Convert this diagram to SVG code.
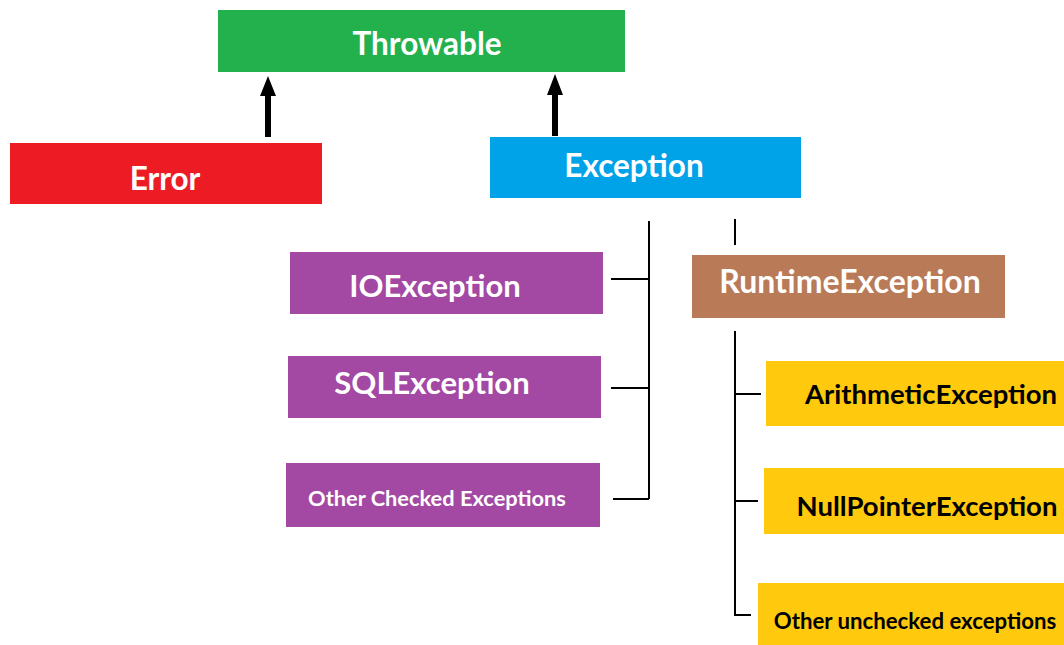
<svg xmlns="http://www.w3.org/2000/svg" width="1064" height="645" viewBox="0 0 1064 645">
<style>
text{font-family:Lato,"Open Sans","Liberation Sans",sans-serif;font-weight:bold;text-anchor:middle}
.w{fill:#ffffff}
.k{fill:#000000}
.ln{stroke:#000;stroke-width:2;fill:none}
</style>
<rect width="1064" height="645" fill="#fff"/>
<g id="connectors">
<polygon points="265,137 271,137 271,96 276,96 268,76 260,96 265,96" fill="#000"/>
<polygon points="552,136 558,136 558,95 563,95 555,74 547,95 552,95" fill="#000"/>
<path class="ln" d="M649,221 V499 M611,279 H649 M611,388 H649 M613,499 H649"/>
<path class="ln" d="M735,219 V245 M735,331 V615 H751 M735,394 H761 M735,501 H758"/>
</g>
<g id="throwable"><rect x="218" y="10" width="407" height="62" fill="#22b14c"/><text class="w" x="427" y="55" font-size="31.5">Throwable</text></g>
<g id="error"><rect x="10" y="143" width="312" height="61" fill="#ed1c24"/><text class="w" x="165" y="190" font-size="31.5">Error</text></g>
<g id="exception"><rect x="490" y="137" width="311" height="61" fill="#00a2e8"/><text class="w" x="634" y="177" font-size="31.5">Exception</text></g>
<g id="ioexception"><rect x="290" y="252" width="313" height="62" fill="#a349a4"/><text class="w" x="435" y="297" font-size="31">IOException</text></g>
<g id="sqlexception"><rect x="288" y="356" width="313" height="62" fill="#a349a4"/><text class="w" x="432" y="394" font-size="31">SQLException</text></g>
<g id="otherchecked"><rect x="286" y="463" width="314" height="64" fill="#a349a4"/><text class="w" x="437" y="506" font-size="21.8">Other Checked Exceptions</text></g>
<g id="runtimeexception"><rect x="692" y="255" width="313" height="63" fill="#b97a57"/><text class="w" x="850" y="293" font-size="32">RuntimeException</text></g>
<g id="arithmetic"><rect x="766" y="361" width="298" height="65" fill="#ffc90e"/><text class="k" x="931" y="404" font-size="27.5">ArithmeticException</text></g>
<g id="nullpointer"><rect x="764" y="468" width="300" height="66" fill="#ffc90e"/><text class="k" x="927" y="516" font-size="27.5">NullPointerException</text></g>
<g id="otherunchecked"><rect x="758" y="583" width="306" height="62" fill="#ffc90e"/><text class="k" x="915" y="629" font-size="22.2">Other unchecked exceptions</text></g>
</svg>
